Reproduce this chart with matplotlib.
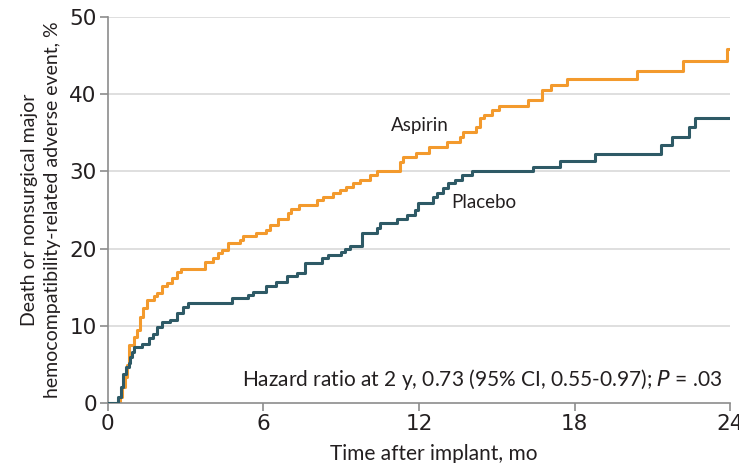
import matplotlib
matplotlib.use("Agg")
import matplotlib.pyplot as plt

# step times (mo) and cumulative incidence (%)
aspirin_t = [0.0, 0.46, 0.55, 0.65, 0.75, 0.83, 0.99, 1.12, 1.25, 1.34, 1.5, 1.76, 1.89,
             2.08, 2.28, 2.47, 2.66, 2.82, 3.74, 4.07, 4.26, 4.39, 4.65, 5.1, 5.22, 5.73,
             6.1, 6.24, 6.55, 6.93, 7.06, 7.38, 8.05, 8.3, 8.7, 8.95, 9.2, 9.46, 9.72,
             10.1, 10.37, 11.27, 11.4, 11.9, 12.4, 13.07, 13.58, 13.7, 14.2, 14.35, 14.5,
             14.8, 15.1, 16.2, 16.73, 17.1, 17.7, 20.4, 22.2, 23.87, 24.0]
aspirin_y = [0.0, 0.8, 2.1, 3.4, 4.9, 7.5, 8.6, 9.5, 11.2, 12.3, 13.3, 13.8, 14.2,
             15.1, 15.5, 16.2, 17.0, 17.4, 18.3, 18.8, 19.4, 19.8, 20.7, 21.1, 21.6, 22.0,
             22.4, 23.1, 23.9, 24.6, 25.2, 25.6, 26.3, 26.7, 27.2, 27.6, 28.0, 28.5, 28.9,
             29.5, 30.0, 31.2, 31.9, 32.4, 33.2, 33.8, 34.5, 35.1, 35.8, 36.9, 37.3,
             38.0, 38.5, 39.2, 40.5, 41.2, 42.0, 43.0, 44.3, 45.9, 45.9]

placebo_t = [0.0, 0.4, 0.5, 0.6, 0.7, 0.8, 0.87, 0.93, 1.0, 1.3, 1.6, 1.75, 1.9, 2.1,
             2.4, 2.65, 2.9, 3.1, 4.8, 5.4, 5.6, 6.1, 6.5, 6.9, 7.28, 7.62, 8.24, 8.5,
             9.0, 9.15, 9.34, 9.79, 10.37, 10.5, 11.14, 11.52, 11.84, 11.97, 12.55, 12.68,
             12.94, 13.13, 13.39, 13.64, 14.03, 16.4, 17.45, 18.8, 21.33, 21.77, 22.4,
             22.65, 24.0]
placebo_y = [0.0, 0.8, 2.1, 3.8, 4.6, 5.2, 6.0, 6.6, 7.3, 7.7, 8.4, 9.0, 9.9, 10.5,
             10.8, 11.6, 12.5, 12.9, 13.6, 14.0, 14.4, 15.1, 15.7, 16.4, 16.8, 18.2, 18.8, 19.2,
             19.6, 20.0, 20.4, 22.0, 22.7, 23.3, 23.9, 24.4, 25.0, 25.9, 26.7, 27.2,
             27.8, 28.5, 28.9, 29.5, 30.0, 30.6, 31.3, 32.3, 33.4, 34.5, 35.7,
             36.9, 36.9]

x_ticks = [0, 6, 12, 18, 24]
y_ticks = [0, 10, 20, 30, 40, 50]

orange = "#F39A2D"
teal = "#2E5A66"
txt = "#231F20"

fig = plt.figure(figsize=(7.39, 4.63), dpi=100)
ax = fig.add_axes([0.146, 0.1296, 0.842, 0.8334])

for y in y_ticks[1:]:
    ax.axhline(y, color="#D9D9D9", lw=1.2, zorder=0)

ax.step(placebo_t, placebo_y, where="post", color=teal, lw=2.2, zorder=3)
ax.step(aspirin_t, aspirin_y, where="post", color=orange, lw=2.2, zorder=2)

ax.set_xlim(0, 24)
ax.set_ylim(0, 50)
ax.set_xticks(x_ticks)
ax.set_yticks(y_ticks)
ax.tick_params(direction="out", length=6, width=1.2, color="#8C8C8C",
               labelsize=15.5, labelcolor=txt, pad=2)
for lab in ax.get_xticklabels() + ax.get_yticklabels():
    lab.set_family(["Liberation Sans Narrow", "DejaVu Sans"])

for s in ["top", "right"]:
    ax.spines[s].set_visible(False)
for s in ["left", "bottom"]:
    ax.spines[s].set_color("#8C8C8C")
    ax.spines[s].set_linewidth(1.2)

font = ["Lato", "DejaVu Sans"]
ax.set_xlabel("Time after implant, mo", fontsize=15, color=txt, family=font, labelpad=3)
ax.xaxis.set_label_coords(0.524, -0.105)
ax.set_ylabel("Death or nonsurgical major\nhemocompatibility-related adverse event, %",
              fontsize=14, color=txt, family=font, labelpad=6, linespacing=1.4)

ax.text(10.9, 36.0, "Aspirin", fontsize=13.5, color=txt, family=font, va="center")
ax.text(13.25, 26.0, "Placebo", fontsize=13.5, color=txt, family=font, va="center")
ax.text(23.7, 3.0, "Hazard ratio at 2 y, 0.73 (95% CI, 0.55-0.97); $\\it{P}$ = .03",
        fontsize=15, color=txt, family=font, ha="right", va="center")

fig.savefig("out.png", dpi=100)
